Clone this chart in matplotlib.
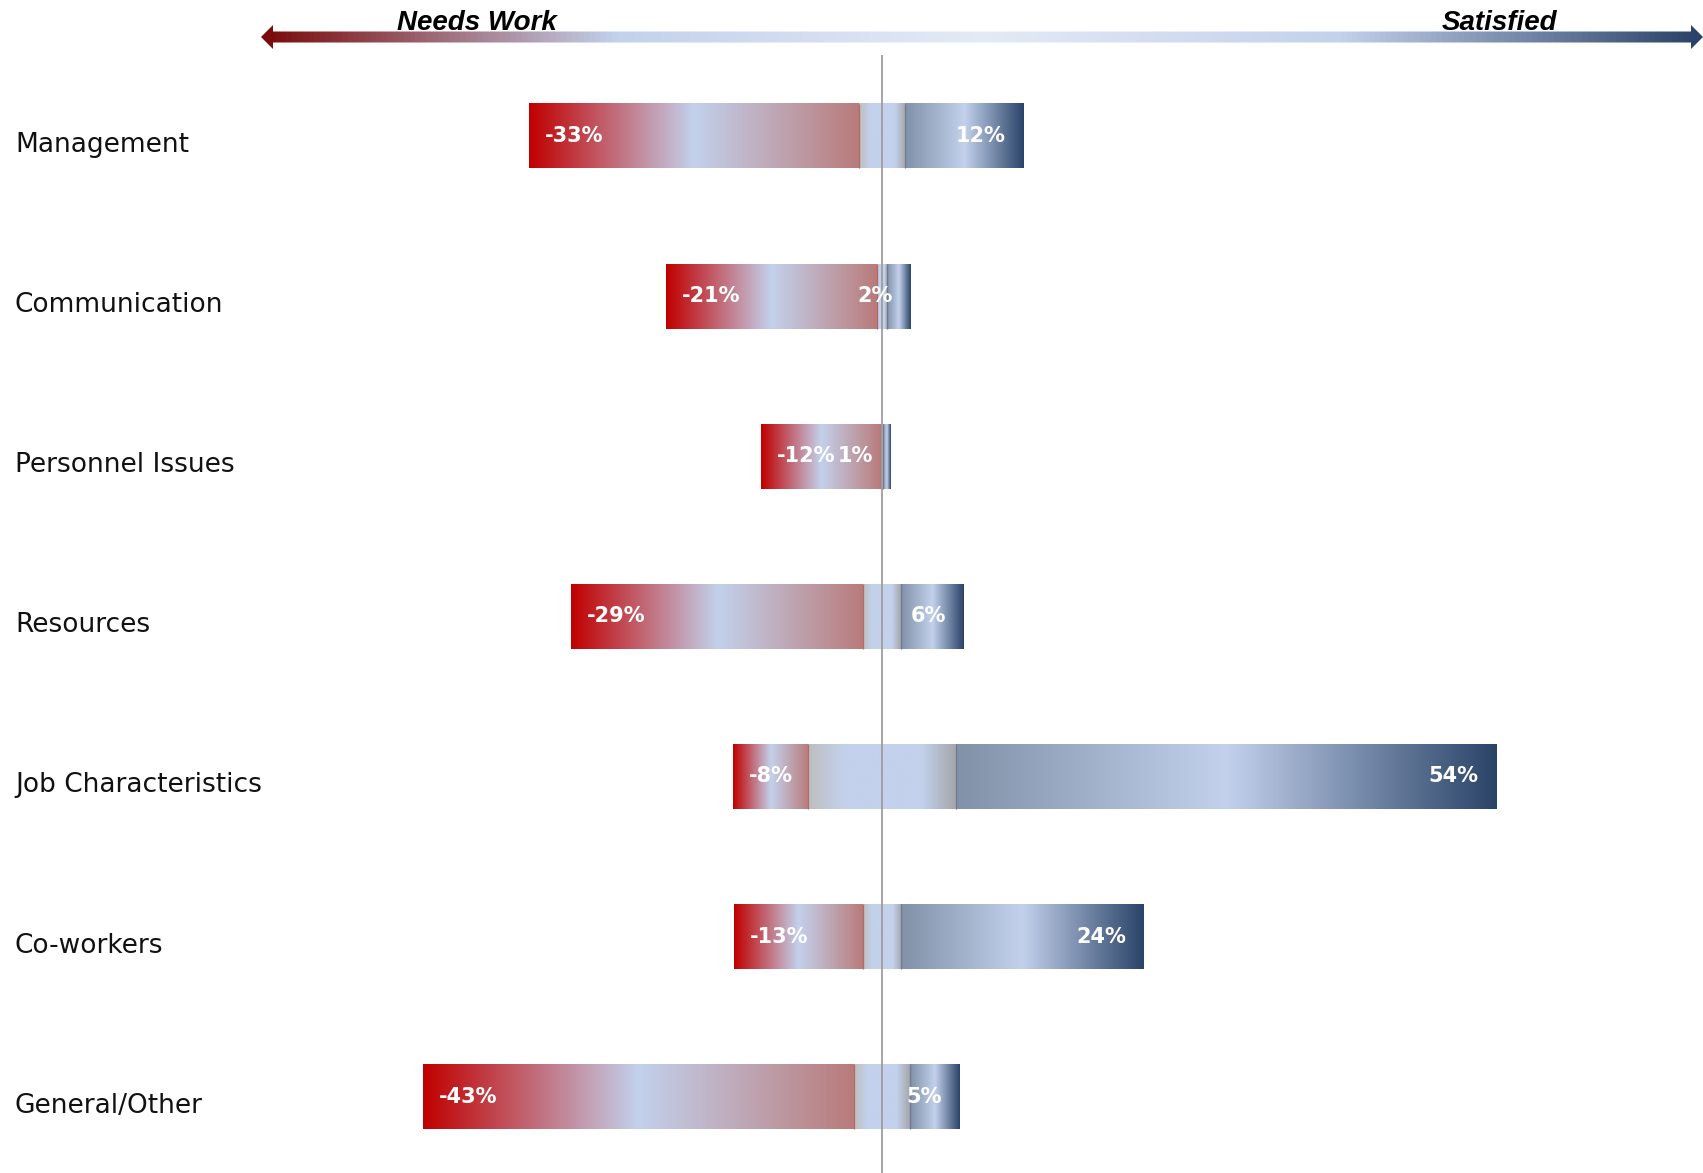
import matplotlib
matplotlib.use("Agg")
import matplotlib.pyplot as plt
import numpy as np
from matplotlib.colors import LinearSegmentedColormap
from matplotlib.patches import Polygon

# ---------------- data ----------------
categories = ["Management", "Communication", "Personnel Issues", "Resources",
              "Job Characteristics", "Co-workers", "General/Other"]
needs_work = [33.1, 21.2, 12.0, 29.4, 7.6, 12.9, 43.3]   # % (shown left of zero)
neutral = [4.7, 1.0, 0.3, 3.8, 14.8, 3.9, 5.6]           # % (centred on zero)
satisfied = [11.9, 2.4, 0.8, 6.3, 54.3, 24.4, 5.0]       # % (shown right of zero)
header_left = "Needs Work"
header_right = "Satisfied"

# ---------------- layout ----------------
W, H = 1703, 1173
PX = 9.95          # pixels per percent
ZERO_PX = 882
ROW0, ROWSTEP = 136.0, 160.1
BAR_H = 0.405

fig = plt.figure(figsize=(W / 100, H / 100), dpi=100)
ax = fig.add_axes([0, 0, 1, 1])
ax.axis("off")

LB = "#C3D1EC"
neg_cmap = LinearSegmentedColormap.from_list("neg", [(0, "#C00000"), (0.5, LB), (1, "#B97B7B")])
neu_cmap = LinearSegmentedColormap.from_list("neu", [(0, "#BEBEBE"), (0.24, LB), (0.77, LB), (1, "#A4A6AA")])
pos_cmap = LinearSegmentedColormap.from_list("pos", [(0, "#8091A8"), (0.5, LB), (1, "#2A4468")])
grad = np.linspace(0, 1, 256).reshape(1, -1)


def grad_bar(x0, x1, y, cmap):
    if x1 - x0 <= 0:
        return
    ax.imshow(grad, cmap=cmap, extent=[x0, x1, y + BAR_H / 2, y - BAR_H / 2],
              aspect="auto", interpolation="bilinear", zorder=2)


for i, (nw, nu, st) in enumerate(zip(needs_work, neutral, satisfied)):
    half = nu / 2
    grad_bar(-half - nw, -half, i, neg_cmap)
    grad_bar(-half, half, i, neu_cmap)
    grad_bar(half, half + st, i, pos_cmap)
    # thin separators between the segments
    ax.vlines(-half, i - BAR_H / 2, i + BAR_H / 2, color="#B36A6A", lw=0.9, zorder=3)
    ax.vlines(half, i - BAR_H / 2, i + BAR_H / 2, color="#6E7A8E", lw=0.9, zorder=3)
    ax.text(-half - nw + 1.6, i + 0.038, f"-{round(nw)}%", color="white",
            fontsize=15, fontweight="bold", ha="left", va="baseline", zorder=5)
    ax.text(half + st - 1.8, i + 0.038, f"{round(st)}%", color="white",
            fontsize=15, fontweight="bold", ha="right", va="baseline", zorder=5)
    ax.text(15 / W, i + 0.1, categories[i], transform=ax.get_yaxis_transform(),
            fontsize=19, color="#111111", ha="left", va="baseline")

ybot = (H - ROW0) / ROWSTEP
ytop = -ROW0 / ROWSTEP
ax.vlines(0, (55 - ROW0) / ROWSTEP, ybot, color="#9E9E9E", lw=1.3, zorder=4)
ax.set_xlim(-ZERO_PX / PX, (W - ZERO_PX) / PX)
ax.set_ylim(ybot, ytop)

# ---------------- top gradient arrow ----------------
axa = fig.add_axes([0, 0, 1, 1], facecolor="none")
axa.axis("off")
arrow_cmap = LinearSegmentedColormap.from_list(
    "arr", [(0, "#7B0A0A"), (0.245, LB), (0.5, "#E4EAF6"), (0.75, LB), (1, "#2A4268")])
x0, x1, yc = 261, 1703, 37
sh, hh, hl = 5.5, 12, 12
pts = [(x0, yc), (x0 + hl, yc - hh), (x0 + hl, yc - sh), (x1 - hl, yc - sh),
       (x1 - hl, yc - hh), (x1, yc), (x1 - hl, yc + hh), (x1 - hl, yc + sh),
       (x0 + hl, yc + sh), (x0 + hl, yc + hh)]
poly = Polygon(pts, closed=True, facecolor="none", edgecolor="none", transform=axa.transData)
axa.add_patch(poly)
im = axa.imshow(grad, cmap=arrow_cmap, extent=[x0, x1, yc + hh, yc - hh],
                aspect="auto", interpolation="bilinear")
im.set_clip_path(poly)
axa.text(476.5, 30, header_left, ha="center", va="baseline", fontsize=20,
         family="Liberation Sans", fontweight="bold", fontstyle="italic", color="black")
axa.text(1499, 30, header_right, ha="center", va="baseline", fontsize=20,
         family="Liberation Sans", fontweight="bold", fontstyle="italic", color="black")
axa.set_xlim(0, W)
axa.set_ylim(H, 0)

fig.savefig("out.png", dpi=100)
